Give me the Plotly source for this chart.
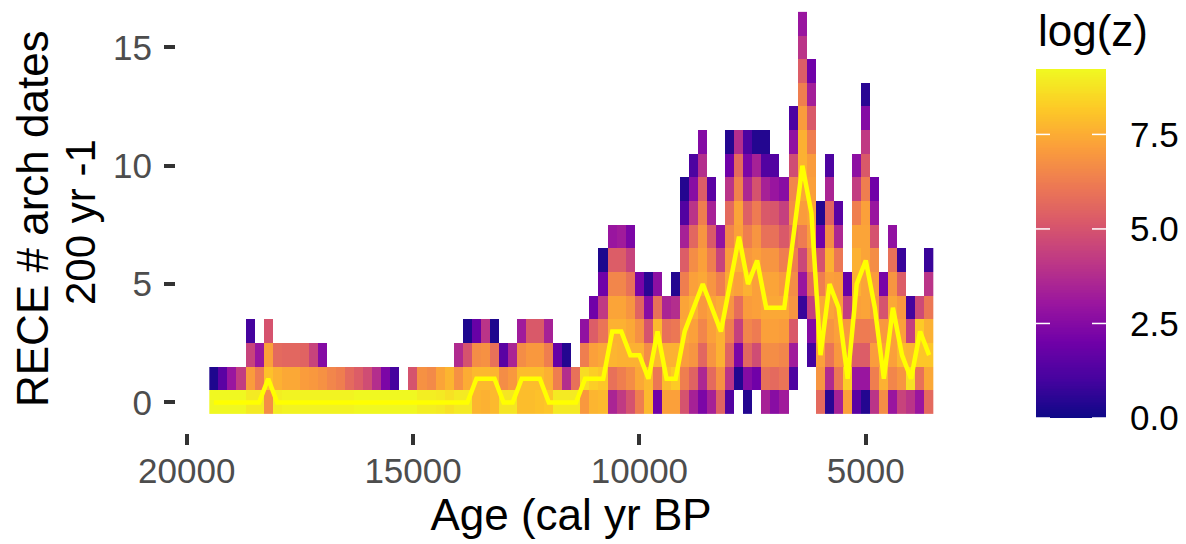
import plotly.graph_objects as go

ages = [19400 - 200 * i for i in range(80)]
N = None
# log(z) per 200-yr column, listed from row 0 upward
column_values = [
    [9.2, 0.3], [9.2, 1.5], [9.2, 3], [9.2, 4.3], [8.9, 7.1, 4.5, 1], [8.9, 6.2, 3],
    [6.7, 8, 7.2, 5], [9, 7.6, 5.7], [9.1, 7.4, 5.6], [9.1, 7.4, 5.6], [9.1, 7.1, 5.5],
    [9.1, 7, 4.5], [9.1, 6.8, 2.5], [9.1, 6.5], [9.1, 6.3], [9.1, 5.7], [9.2, 5.3],
    [9.2, 4.8], [9.2, 3.8], [9.2, 2.3], [9.2, 1], [9.2], [9.2, 5], [9.0, 6.8], [9.0, 6.6],
    [8.9, 7.3], [8.7, 7.7], [8.9, 6.8, 3.7], [8.9, 7.5, 5, 0.3], [7.7, 7.8, 6.7, 1.8],
    [7.6, 7.8, 6.8, 4], [7.8, 7.7, 5.9, 0.3], [8.8, 6.7, 1.5], [8.8, 7, 3.5],
    [7.9, 7.9, 6.7, 3.2], [7.9, 7.9, 7, 5.2], [8, 7.9, 7, 5.2], [8.1, 7.6, 6.3, 3.4],
    [8.9, 6.3, 1.8], [8.9, 3.8, 0.4], [8.9, 5.9], [7, 8.6, 6.3, 2.8], [7.7, 8.3, 7.2, 5.3, 2],
    [7.8, 8.1, 7.4, 6, 4.2, 2, 0.3], [3.5, 5.9, 7.7, 7.6, 7.3, 6.5, 5.3, 3],
    [4.2, 6.3, 7.6, 7.6, 7.3, 6.5, 5.3, 3.2], [5, 6.7, 7.6, 7.4, 6.9, 5.9, 4.5, 2.3],
    [6.3, 7.4, 7.6, 6.8, 5.5, 2.2], [7.8, 7.8, 6.7, 5, 2.6, 0.5], [2, 6.1, 7.8, 7.8, 5.9, 2.7],
    [7.2, 7.9, 7.6, 5.9, 3.5], [7.2, 8.2, 7.6, 6.1, 3.8, 0.4],
    [5, 6.3, 7.1, 7.4, 7.3, 6.3, 5.3, 3.4, 1.3, 0.4],
    [3.4, 5.5, 6.9, 7.2, 7.6, 7.2, 6.7, 5.6, 4, 2.6, 1.2],
    [2.3, 3.6, 5.6, 6.5, 7, 7.4, 7.2, 6.9, 6.3, 5.3, 3.8, 2.5],
    [3.4, 5.7, 6.9, 7.2, 7.3, 6.9, 6.3, 5.2, 3.4, 1.5],
    [5.5, 6.8, 7.6, 7.6, 7.5, 6.3, 4.5, 2.8],
    [1.3, 4, 5.5, 6.3, 6.9, 7.4, 7.1, 6.5, 5.7, 4, 2, 0.4],
    [N, 0.4, 2.3, 4.4, 5.8, 7.2, 7.6, 7.2, 7.3, 6.4, 5.7, 3.8],
    [0.4, 2.5, 5.6, 6.5, 7.1, 7.6, 7, 6.3, 5.4, 3.6, 2.3, 1.2],
    [N, 2, 4.8, 6.2, 7.2, 7.2, 7.2, 6.9, 6.2, 5, 3.4, 0.4],
    [3.4, 5.9, 6.7, 7.2, 7.4, 7.3, 6.9, 5.9, 5.2, 3.4, 1.3, 0.4],
    [2.6, 5.7, 6.7, 7.2, 7.4, 7.3, 6.9, 5.9, 5.1, 3, 1.3],
    [3.2, 6, 6.5, 7.1, 7.4, 7, 6.3, 5.2, 4.4, 2.6],
    [N, 1.2, 3.2, 5.2, 6.9, 6.7, 6.3, 5.9, 6.7, 6.5, 4.8, 2.8, 1.2],
    [N, N, N, N, 0.8, 3, 4.6, 6.2, 7.1, 7.4, 7.6, 7.6, 7.1, 6.3, 5.3, 4, 3],
    [N, N, 1, 2.5, 4.4, 5.8, 6.7, 7.1, 7.3, 7.2, 7.1, 6.3, 5.2, 3.3, 2],
    [5.7, 6.9, 7.2, 7.4, 7.4, 6.3, 5, 2, 0.4],
    [0.5, 3.7, 6, 6.9, 7.3, 7.2, 7.6, 6.7, 5.5, 3.5, 1.2],
    [3.4, 6.1, 7, 7.2, 7.1, 7.1, 6.1, 3.6, 1.5],
    [7.2, 8.3, 6.9, 7, 4.3, 1.8],
    [1.5, 3, 5.3, 6.2, 7.2, 7.6, 7.6, 7.3, 6.3, 4.3, 2.7],
    [0.4, 3, 5.3, 6.2, 7.3, 7.3, 7.3, 7.3, 7.2, 6.3, 5.2, 4.2, 2.5, 0.5],
    [4, 6.3, 7.1, 6.3, 6.9, 7.1, 6.7, 5, 3, 2],
    [6.7, 7.6, 7.2, 7, 5, 2.2],
    [3, 6.5, 7.2, 7.2, 7.4, 6.9, 5.9, 2.8],
    [4.5, 6.9, 7.8, 7.2, 7, 5.3, 0.8],
    [4, 8.7, 7.7, 4.4, 1],
    [3, 5.9, 8.1, 8.2, 4.7],
    [5.7, 7.4, 8.1, 7.6, 6.1, 4, 0.8],
]
median_line = [0, 0, 0, 0, 0, 0, 1, 0, 0, 0, 0, 0, 0, 0, 0, 0, 0, 0, 0, 0,
               0, 0, 0, 0, 0, 0, 0, 0, 0, 1, 1, 1, 0, 0, 1, 1, 1, 0, 0, 0,
               0, 1, 1, 1, 3, 3, 2, 2, 1, 3, 1, 1, 3, 4, 5, 4, 3, 5, 7, 5,
               6, 4, 4, 4, 7, 10, 8, 2, 5, 4, 1, 5, 6, 4, 1, 4, 2, 1, 3, 2]
rows = list(range(17))
x_ticks = [20000, 15000, 10000, 5000]
y_ticks = [0, 5, 10, 15]
cb_ticks = [0, 2.5, 5, 7.5]
cb_labels = ["0.0", "2.5", "5.0", "7.5"]
z_max = 9.23

z = [[(c[r] if r < len(c) else None) for c in column_values] for r in rows]
ramp = [z_max * k / 200 for k in range(201)]

FONT = "Liberation Sans"
L, R, T, B = 176, 0, 5, 111
W, H = 1186, 544
pw, ph = W - L - R, H - T - B
PANEL_R = 966
BAR_L, BAR_R, BAR_T, BAR_B = 1036, 1106, 69, 418


def px_x(px):
    return (px - L) / pw


def px_y(px):
    return (H - B - px) / ph


fig = go.Figure()
fig.add_trace(go.Heatmap(
    x=ages, y=rows, z=z, colorscale="Plasma", zmin=0, zmax=z_max, hoverongaps=False,
    showscale=False,
))
fig.add_trace(go.Scatter(
    x=ages, y=median_line, mode="lines", line=dict(color="#FFFF00", width=4.5),
    showlegend=False,
))
# colour key, with its ticks on both edges like the reference
fig.add_trace(go.Heatmap(
    x=[0, 1], y=ramp, z=[[v, v] for v in ramp], colorscale="Plasma", zmin=0, zmax=z_max,
    showscale=False, xaxis="x2", yaxis="y2", hoverinfo="skip",
))


def bar_tick(v, x0, x1):
    return dict(type="line", xref="x2", yref="y2", x0=x0, x1=x1, y0=v, y1=v,
                line=dict(color="white", width=1.5))


tick_frac = 14 / (BAR_R - BAR_L) * 2
fig.update_layout(
    width=W, height=H, margin=dict(l=L, r=R, t=T, b=B, autoexpand=False),
    paper_bgcolor="white", plot_bgcolor="white", showlegend=False,
    font=dict(family=FONT),
    xaxis=dict(
        domain=[0, px_x(PANEL_R)],
        range=[20236, 2786], tickmode="array", tickvals=x_ticks, ticktext=[str(t) for t in x_ticks],
        ticks="outside", ticklen=11, tickwidth=3.5, tickcolor="#333333", ticklabelstandoff=-4,
        tickfont=dict(family=FONT, size=35, color="#4D4D4D"),
        showgrid=False, zeroline=False, showline=False,
        title=dict(text="Age (cal yr BP", font=dict(family=FONT, size=44, color="black"), standoff=0),
    ),
    yaxis=dict(
        range=[-1.289, 16.79], tickmode="array", tickvals=y_ticks, ticktext=[str(t) for t in y_ticks],
        ticks="outside", ticklen=11, tickwidth=3.5, tickcolor="#333333", ticklabelstandoff=5,
        tickfont=dict(family=FONT, size=35, color="#4D4D4D"),
        showgrid=False, zeroline=False, showline=False,
    ),
    xaxis2=dict(
        domain=[px_x(BAR_L), px_x(BAR_R)], anchor="y2", range=[-0.5, 1.5],
        showticklabels=False, ticks="", showgrid=False, zeroline=False, showline=False,
    ),
    yaxis2=dict(
        domain=[px_y(BAR_B), px_y(BAR_T)], anchor="x2", side="right", range=[0, z_max],
        tickmode="array", tickvals=cb_ticks, ticktext=cb_labels, ticks="", ticklabelstandoff=23,
        tickfont=dict(family=FONT, size=35, color="black"),
        showgrid=False, zeroline=False, showline=False,
    ),
    shapes=[bar_tick(v, -0.5, -0.5 + tick_frac) for v in cb_ticks]
           + [bar_tick(v, 1.5 - tick_frac, 1.5) for v in cb_ticks],
    annotations=[
        dict(text="RECE # arch dates", xref="paper", yref="paper", x=px_x(32), y=px_y(219),
             xanchor="center", yanchor="middle", textangle=-90, showarrow=False,
             font=dict(family=FONT, size=44, color="black")),
        dict(text="200 yr -1", xref="paper", yref="paper", x=px_x(80), y=px_y(222),
             xanchor="center", yanchor="middle", textangle=-90, showarrow=False,
             font=dict(family=FONT, size=42, color="black")),
        dict(text="log(z)", xref="paper", yref="paper", x=px_x(1036), y=px_y(31),
             xanchor="left", yanchor="middle", showarrow=False,
             font=dict(family=FONT, size=44, color="black")),
    ],
)
fig.write_html("out.html", post_script="document.body.style.margin='0';",
               config=dict(displayModeBar=False))
